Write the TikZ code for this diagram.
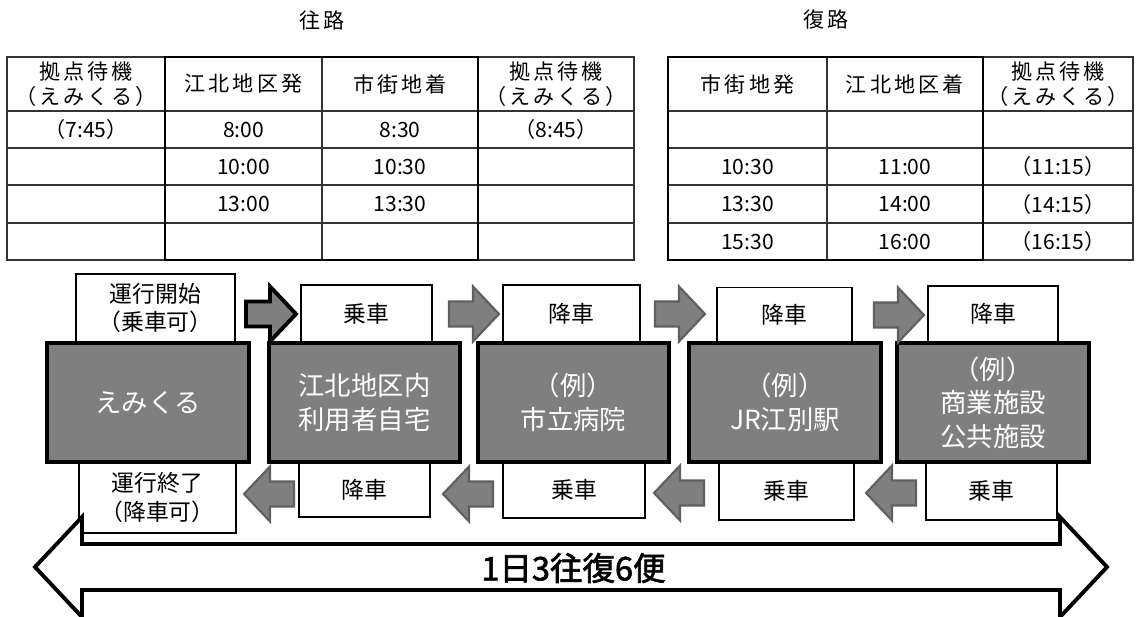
\documentclass[tikz,border=0pt]{standalone}
\usepackage{fontspec}
\setmainfont{Noto Sans CJK JP}[AutoFakeBold=2]
\newfontfamily\headfont{Noto Sans CJK JP}[LetterSpace=15]
\usetikzlibrary{positioning}
\definecolor{boxgray}{RGB}{127,127,127}
\definecolor{arredge}{RGB}{95,95,95}
\newcommand\px{0.02cm}
\tikzset{every node/.style={inner sep=0pt, align=center},
  tabline/.style={black!80, line width=0.8pt},
  tabthick/.style={black, line width=1.6pt},
  tabhead/.style={font=\headfont\fontsize{12}{14}\selectfont},
  tabcell/.style={font=\fontsize{12}{14}\selectfont},
  sitebox/.style={draw=black, line width=2.2pt, fill=boxgray, text=white, font=\fontsize{15}{19}\selectfont, minimum height=119*\px},
  stopbox/.style={draw=black, line width=0.9pt, fill=white, font=\fontsize{13}{16}\selectfont},
  grayarr/.style={draw=arredge, fill=boxgray, line width=1.2pt},
  blackarr/.style={draw=black, fill=boxgray, line width=2.2pt},
  blockarrow/.pic={\path[pic actions] (-24,-12.5) -- (0,-12.5) -- (0,-27.5) -- (26,0) -- (0,27.5) -- (0,12.5) -- (-24,12.5) -- cycle;}}

\begin{document}
\begin{tikzpicture}[x=\px, y=-\px]
  \useasboundingbox (0,0) rectangle (1138,617);

  % time tables
  \node[tabhead] (go) at (322,20) {往路};
  \node[tabhead] (back) at (826,20) {復路};

  \draw[tabline] (7,57) rectangle (634,260);
  \foreach \x in {165,322,478} \draw[tabline] (\x,57) -- (\x,260);
  \foreach \y in {111,148,185,223} \draw[tabline] (7,\y) -- (634,\y);
  \draw[tabthick] (165,57) rectangle (478,260);

  \draw[tabline] (668,57) rectangle (1133,260);
  \foreach \x in {827,983} \draw[tabline] (\x,57) -- (\x,260);
  \foreach \y in {111,148,185,223} \draw[tabline] (668,\y) -- (1133,\y);
  \draw[tabthick] (668,57) rectangle (983,260);

  \node[tabhead] (gh1) at (86,84) {拠点待機\\（えみくる）};
  \node[tabhead] (gh2) at (243.5,84) {江北地区発};
  \node[tabhead] (gh3) at (400,84) {市街地着};
  \node[tabhead] (gh4) at (556,84) {拠点待機\\（えみくる）};
  \node[tabcell] (g11) at (86,129.5) {（7:45）};
  \node[tabcell] (g12) at (243.5,129.5) {8:00};
  \node[tabcell] (g13) at (400,129.5) {8:30};
  \node[tabcell] (g14) at (556,129.5) {（8:45）};
  \node[tabcell] (g22) at (243.5,166.5) {10:00};
  \node[tabcell] (g23) at (400,166.5) {10:30};
  \node[tabcell] (g32) at (243.5,204) {13:00};
  \node[tabcell] (g33) at (400,204) {13:30};

  \node[tabhead] (bh1) at (747.5,84) {市街地発};
  \node[tabhead] (bh2) at (905,84) {江北地区着};
  \node[tabhead] (bh3) at (1058,84) {拠点待機\\（えみくる）};
  \node[tabcell] (b21) at (747.5,166.5) {10:30};
  \node[tabcell] (b22) at (905,166.5) {11:00};
  \node[tabcell] (b23) at (1058,166.5) {（11:15）};
  \node[tabcell] (b31) at (747.5,204) {13:30};
  \node[tabcell] (b32) at (905,204) {14:00};
  \node[tabcell] (b33) at (1058,204) {（14:15）};
  \node[tabcell] (b41) at (747.5,241.5) {15:30};
  \node[tabcell] (b42) at (905,241.5) {16:00};
  \node[tabcell] (b43) at (1058,241.5) {（16:15）};

  % boarding / alighting boxes
  \node[stopbox, minimum width=159*\px, minimum height=68*\px] (start) at (155.5,308) {運行開始\\（乗車可）};
  \node[stopbox, minimum width=131*\px, minimum height=57*\px] (on2) at (366.5,313.5) {乗車};
  \node[stopbox, minimum width=137*\px, minimum height=57*\px] (off3) at (571.5,313.5) {降車};
  \node[stopbox, minimum width=135*\px, minimum height=55*\px] (off4) at (784.5,315) {降車};
  \node[stopbox, minimum width=130*\px, minimum height=56*\px] (off5) at (993,314) {降車};
  \node[stopbox, minimum width=157*\px, minimum height=71*\px] (finish) at (157.5,497.5) {運行終了\\（降車可）};
  \node[stopbox, minimum width=131*\px, minimum height=55*\px] (off2) at (364.5,489.5) {降車};
  \node[stopbox, minimum width=142*\px, minimum height=56*\px] (on3) at (574,490) {乗車};
  \node[stopbox, minimum width=135*\px, minimum height=58*\px] (on4) at (786.5,491) {乗車};
  \node[stopbox, minimum width=131*\px, minimum height=58*\px] (on5) at (991.5,491) {乗車};

  % places
  \node[sitebox, minimum width=202*\px] (base) at (148,402.5) {えみくる};
  \node[sitebox, minimum width=191*\px] (home) at (364.5,402.5) {江北地区内\\利用者自宅};
  \node[sitebox, minimum width=191*\px] (hosp) at (573.5,402.5) {（例）\\市立病院};
  \node[sitebox, minimum width=192*\px] (stn) at (785,402.5) {（例）\\JR江別駅};
  \node[sitebox, minimum width=192*\px] (shop) at (993,402.5) {（例）\\商業施設\\公共施設};

  % flow arrows
  \pic[blackarr] at (270,314) {blockarrow};
  \pic[grayarr] at (473,314) {blockarrow};
  \pic[grayarr] at (679,314) {blockarrow};
  \pic[grayarr] at (898,315) {blockarrow};
  \pic[grayarr, rotate=180] at (270,494) {blockarrow};
  \pic[grayarr, rotate=180] at (469,494) {blockarrow};
  \pic[grayarr, rotate=180] at (680,493) {blockarrow};
  \pic[grayarr, rotate=180] at (892,493) {blockarrow};

  % round trips
  \draw[black, fill=white, line width=2.2pt, line join=miter]
    (82,544) -- (1060,544) -- (1060,517) -- (1107,567) -- (1060,617) -- (1060,590)
    -- (82,590) -- (82,617) -- (35,567) -- (82,517) -- cycle;
  \node[font=\bfseries\fontsize{18.5}{20}\selectfont] (trips) at (573.5,568) {1日3往復6便};
\end{tikzpicture}
\end{document}
